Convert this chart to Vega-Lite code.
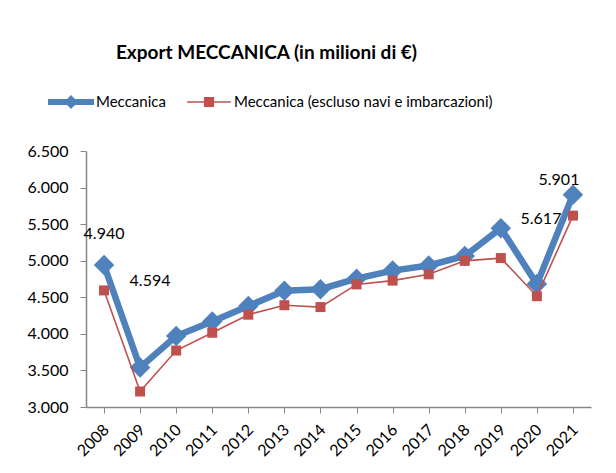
{
  "$schema": "https://vega.github.io/schema/vega-lite/v6.json",
  "autosize": "none",
  "width": 505,
  "height": 256,
  "padding": {"left": 86, "top": 151, "right": 25, "bottom": 66},
  "background": "white",
  "title": {
    "text": "Export MECCANICA (in milioni di €)",
    "anchor": "middle",
    "frame": "group",
    "dx": -72,
    "offset": 16,
    "font": "Lato",
    "fontSize": 19,
    "fontWeight": "bold",
    "color": "#000000"
  },
  "config": {
    "view": {"stroke": null},
    "locale": {"number": {"decimal": ",", "thousands": ".", "grouping": [3], "currency": ["€", ""]}},
    "axis": {"labelFont": "Lato", "labelFontSize": 16, "labelColor": "#000000", "domainColor": "#868686", "tickColor": "#868686", "grid": false, "title": null}
  },
  "data": {
    "values": [
      {"year": "2008", "series": "Meccanica", "value": 4940},
      {"year": "2009", "series": "Meccanica", "value": 3540},
      {"year": "2010", "series": "Meccanica", "value": 3970},
      {"year": "2011", "series": "Meccanica", "value": 4170},
      {"year": "2012", "series": "Meccanica", "value": 4380},
      {"year": "2013", "series": "Meccanica", "value": 4590},
      {"year": "2014", "series": "Meccanica", "value": 4610},
      {"year": "2015", "series": "Meccanica", "value": 4755},
      {"year": "2016", "series": "Meccanica", "value": 4865},
      {"year": "2017", "series": "Meccanica", "value": 4935},
      {"year": "2018", "series": "Meccanica", "value": 5065},
      {"year": "2019", "series": "Meccanica", "value": 5445},
      {"year": "2020", "series": "Meccanica", "value": 4680},
      {"year": "2021", "series": "Meccanica", "value": 5901},
      {"year": "2008", "series": "Meccanica (escluso navi e imbarcazioni)", "value": 4594},
      {"year": "2009", "series": "Meccanica (escluso navi e imbarcazioni)", "value": 3212},
      {"year": "2010", "series": "Meccanica (escluso navi e imbarcazioni)", "value": 3772},
      {"year": "2011", "series": "Meccanica (escluso navi e imbarcazioni)", "value": 4015},
      {"year": "2012", "series": "Meccanica (escluso navi e imbarcazioni)", "value": 4262},
      {"year": "2013", "series": "Meccanica (escluso navi e imbarcazioni)", "value": 4392},
      {"year": "2014", "series": "Meccanica (escluso navi e imbarcazioni)", "value": 4366},
      {"year": "2015", "series": "Meccanica (escluso navi e imbarcazioni)", "value": 4676},
      {"year": "2016", "series": "Meccanica (escluso navi e imbarcazioni)", "value": 4728},
      {"year": "2017", "series": "Meccanica (escluso navi e imbarcazioni)", "value": 4814},
      {"year": "2018", "series": "Meccanica (escluso navi e imbarcazioni)", "value": 4998},
      {"year": "2019", "series": "Meccanica (escluso navi e imbarcazioni)", "value": 5036},
      {"year": "2020", "series": "Meccanica (escluso navi e imbarcazioni)", "value": 4515},
      {"year": "2021", "series": "Meccanica (escluso navi e imbarcazioni)", "value": 5617}
    ]
  },
  "encoding": {
    "x": {
      "field": "year",
      "type": "ordinal",
      "scale": {"paddingInner": 0, "paddingOuter": 0},
      "axis": {"labelAngle": -45, "labelAlign": "right", "labelBaseline": "middle", "bandPosition": 0, "labelOffset": 2, "tickSize": 6, "labelPadding": 14, "domainWidth": 1.5}
    },
    "y": {
      "field": "value",
      "type": "quantitative",
      "scale": {"domain": [3000, 6500], "nice": false, "zero": false},
      "axis": {"values": [3000, 3500, 4000, 4500, 5000, 5500, 6000, 6500], "format": ",d", "tickSize": 6, "labelPadding": 12, "domainWidth": 1.5}
    },
    "color": {
      "field": "series",
      "type": "nominal",
      "scale": {"domain": ["Meccanica", "Meccanica (escluso navi e imbarcazioni)"], "range": ["#4F81BD", "#C0504D"]},
      "legend": {
        "title": null,
        "orient": "none",
        "direction": "horizontal",
        "legendX": -38,
        "legendY": -72,
        "padding": 0,
        "columnPadding": 20,
        "labelOffset": 2,
        "labelFont": "Lato",
        "labelFontSize": 15,
        "labelColor": "#000000",
        "labelLimit": 400,
        "symbolSize": 2116,
        "encode": {
          "symbols": {
            "update": {
              "shape": {"signal": "datum.value == 'Meccanica' ? 'M-1,-0.13L1,-0.13L1,0.13L-1,0.13Z M0,-0.3L0.3,0L0,0.3L-0.3,0Z' : 'M-0.95,-0.035L0.95,-0.035L0.95,0.035L-0.95,0.035Z M-0.22,-0.22L0.22,-0.22L0.22,0.22L-0.22,0.22Z'"},
              "fill": {"signal": "datum.value == 'Meccanica' ? '#4F81BD' : '#C0504D'"},
              "stroke": {"value": "transparent"},
              "strokeWidth": {"value": 0},
              "fillOpacity": {"value": 1},
              "opacity": {"value": 1}
            }
          }
        }
      }
    }
  },
  "layer": [
    {
      "transform": [{"filter": "datum.series == 'Meccanica'"}],
      "mark": {"type": "line", "strokeWidth": 6.5}
    },
    {
      "transform": [{"filter": "datum.series == 'Meccanica'"}],
      "mark": {"type": "point", "shape": "diamond", "size": 420, "filled": true, "opacity": 1}
    },
    {
      "transform": [{"filter": "datum.series != 'Meccanica'"}],
      "mark": {"type": "line", "strokeWidth": 1.6}
    },
    {
      "transform": [{"filter": "datum.series != 'Meccanica'"}],
      "mark": {"type": "point", "shape": "square", "size": 100, "filled": true, "opacity": 1}
    },
    {
      "transform": [{"filter": "datum.series == 'Meccanica' && datum.year == '2008'"}],
      "mark": {"type": "text", "font": "Lato", "fontSize": 16, "color": "#000000", "dx": 0, "dy": -31, "align": "center", "baseline": "middle"},
      "encoding": {"text": {"field": "value", "type": "quantitative", "format": ",d"}, "color": {"value": "#000000"}}
    },
    {
      "transform": [{"filter": "datum.series != 'Meccanica' && datum.year == '2008'"}],
      "mark": {"type": "text", "font": "Lato", "fontSize": 16, "color": "#000000", "dx": 46, "dy": -9, "align": "center", "baseline": "middle"},
      "encoding": {"text": {"field": "value", "type": "quantitative", "format": ",d"}, "color": {"value": "#000000"}}
    },
    {
      "transform": [{"filter": "datum.series == 'Meccanica' && datum.year == '2021'"}],
      "mark": {"type": "text", "font": "Lato", "fontSize": 16, "color": "#000000", "dx": -14, "dy": -15, "align": "center", "baseline": "middle"},
      "encoding": {"text": {"field": "value", "type": "quantitative", "format": ",d"}, "color": {"value": "#000000"}}
    },
    {
      "transform": [{"filter": "datum.series != 'Meccanica' && datum.year == '2021'"}],
      "mark": {"type": "text", "font": "Lato", "fontSize": 16, "color": "#000000", "dx": -32, "dy": 3, "align": "center", "baseline": "middle"},
      "encoding": {"text": {"field": "value", "type": "quantitative", "format": ",d"}, "color": {"value": "#000000"}}
    }
  ]
}
